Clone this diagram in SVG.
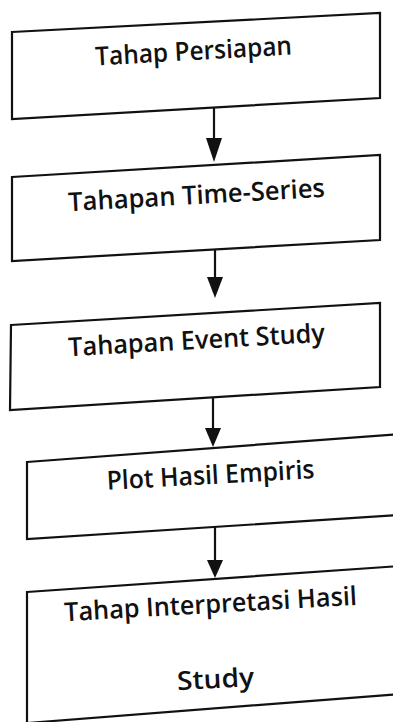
<svg xmlns="http://www.w3.org/2000/svg" width="393" height="722" viewBox="0 0 393 722">
  <style>
    .box { fill: #ffffff; stroke: #111111; stroke-width: 2.2; stroke-linejoin: miter; }
    .lbl { font-family: "Open Sans", "Liberation Sans", sans-serif; font-size: 26px; font-weight: 600; fill: #111111; text-anchor: middle; }
    .edge { stroke: #111111; stroke-width: 2.2; fill: none; }
    .head { fill: #111111; stroke: none; }
  </style>
  <rect x="0" y="0" width="393" height="722" fill="#ffffff"/>

  <g id="node-persiapan">
    <polygon class="box" points="12,32 380,13 380,98 12,119"/>
    <text class="lbl" x="194" y="60" transform="rotate(-3.2 194 60)" textLength="197" lengthAdjust="spacingAndGlyphs">Tahap Persiapan</text>
  </g>

  <g id="node-timeseries">
    <polygon class="box" points="12,177 380,155 380,240 12,261"/>
    <text class="lbl" x="197" y="204" transform="rotate(-3.2 197 204)" textLength="257" lengthAdjust="spacingAndGlyphs">Tahapan Time-Series</text>
  </g>

  <g id="node-eventstudy">
    <polygon class="box" points="11,325 380,303 380,387 10,410"/>
    <text class="lbl" x="197" y="349" transform="rotate(-3.2 197 349)" textLength="257" lengthAdjust="spacingAndGlyphs">Tahapan Event Study</text>
  </g>

  <g id="node-plot">
    <polygon class="box" points="27,462 400,434 400,515 27,539"/>
    <text class="lbl" x="211" y="484" transform="rotate(-3.2 211 484)" textLength="208" lengthAdjust="spacingAndGlyphs">Plot Hasil Empiris</text>
  </g>

  <g id="node-interpretasi">
    <polygon class="box" points="27,592 400,566 400,694 27,723"/>
    <text class="lbl" x="211" y="613" transform="rotate(-3.2 211 613)" textLength="293" lengthAdjust="spacingAndGlyphs">Tahap Interpretasi Hasil</text>
    <text class="lbl" x="216" y="688" transform="rotate(-3.2 216 688)" textLength="77" lengthAdjust="spacingAndGlyphs">Study</text>
  </g>

  <g id="connectors">
    <line class="edge" x1="214" y1="107" x2="214" y2="140"/>
    <polygon class="head" points="206,138 222,138 214,162"/>
    <line class="edge" x1="215" y1="249" x2="215" y2="279"/>
    <polygon class="head" points="207,277 223,277 215,298"/>
    <line class="edge" x1="213" y1="397" x2="213" y2="430"/>
    <polygon class="head" points="205,428 221,428 213,447"/>
    <line class="edge" x1="215" y1="526" x2="215" y2="562"/>
    <polygon class="head" points="207,560 223,560 215,578"/>
  </g>
</svg>
